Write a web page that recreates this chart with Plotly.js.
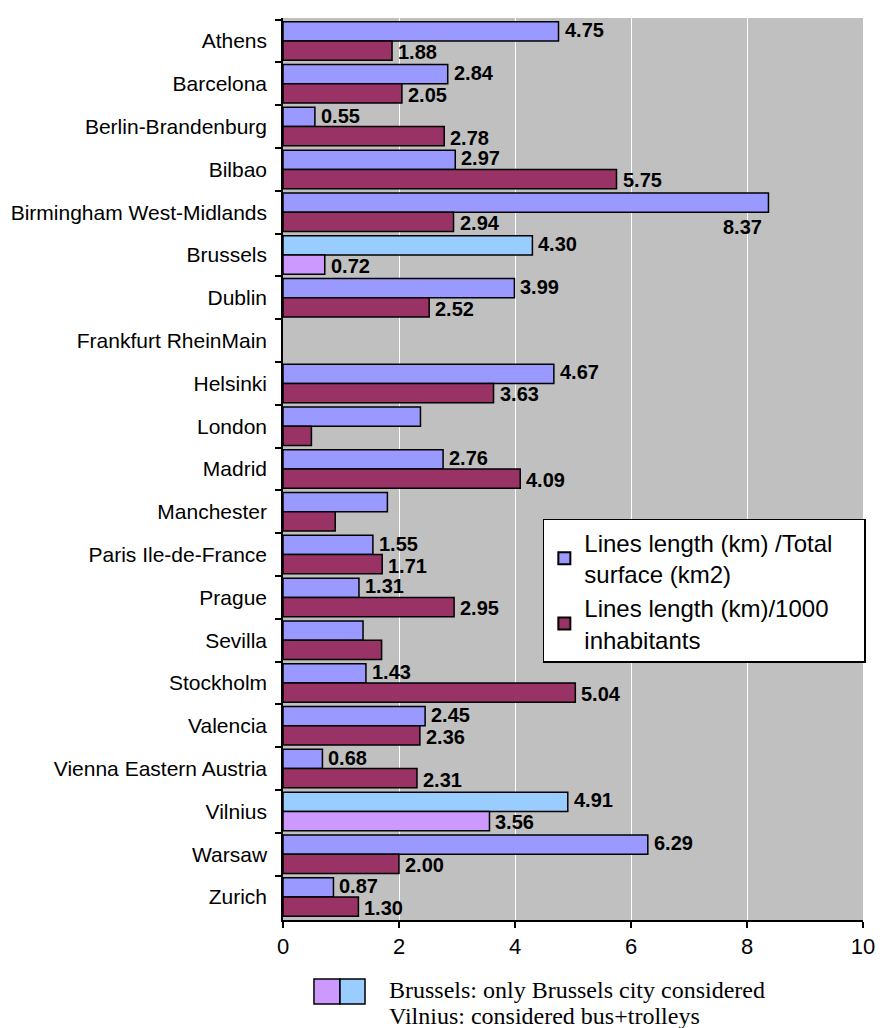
<!DOCTYPE html>
<html>
<head>
<meta charset="utf-8">
<script src="https://cdn.plot.ly/plotly-3.0.1.min.js"></script>
<style>
  body { margin: 0; background: #fff; }
  #chart { width: 882px; height: 1028px; }
</style>
</head>
<body>
<div id="chart"></div>
<script>
const cities = [
  'Athens', 'Barcelona', 'Berlin-Brandenburg', 'Bilbao', 'Birmingham West-Midlands',
  'Brussels', 'Dublin', 'Frankfurt RheinMain', 'Helsinki', 'London', 'Madrid',
  'Manchester', 'Paris Ile-de-France', 'Prague', 'Sevilla', 'Stockholm', 'Valencia',
  'Vienna Eastern Austria', 'Vilnius', 'Warsaw', 'Zurich'
];

// lines length (km) / total surface (km2)
const perSurface = [4.75, 2.84, 0.55, 2.97, 8.37, 4.30, 3.99, null, 4.67, 2.37, 2.76,
  1.80, 1.55, 1.31, 1.38, 1.43, 2.45, 0.68, 4.91, 6.29, 0.87];

// lines length (km) / 1000 inhabitants
const perInhabitants = [1.88, 2.05, 2.78, 5.75, 2.94, 0.72, 2.52, null, 3.63, 0.49, 4.09,
  0.90, 1.71, 2.95, 1.70, 5.04, 2.36, 2.31, 3.56, 2.00, 1.30];

// cities whose bar has no value label
const unlabelled = ['London', 'Manchester', 'Sevilla'];
// cities measured differently (see note under the chart)
const special = ['Brussels', 'Vilnius'];

// trailing nbsp just widens the legend box a little
const seriesNames = [
  'Lines length (km) /Total\u00a0\u00a0\u00a0\u00a0<br>surface (km2)',
  'Lines length (km)/1000<br>inhabitants'
];
const noteLines = [
  'Brussels: only Brussels city considered',
  'Vilnius: considered bus+trolleys'
];

const BLUE = '#9999FF', MAROON = '#993366', LIGHTBLUE = '#99CCFF', LILAC = '#CC99FF';
const SANS = 'Liberation Sans, Arial, sans-serif';

const blueColors = cities.map(c => special.includes(c) ? LIGHTBLUE : BLUE);
const redColors = cities.map(c => special.includes(c) ? LILAC : MAROON);

const traces = [
  {
    type: 'bar', orientation: 'h', name: seriesNames[0],
    y: cities, x: perSurface,
    marker: {color: blueColors, line: {color: '#000', width: 1.5}},
    hoverinfo: 'x+y'
  },
  {
    type: 'bar', orientation: 'h', name: seriesNames[1],
    y: cities, x: perInhabitants,
    marker: {color: redColors, line: {color: '#000', width: 1.5}},
    hoverinfo: 'x+y'
  }
];

// value labels
const annotations = [];
const up = 11, down = 11;
cities.forEach((c, i) => {
  if (unlabelled.includes(c)) return;
  const a = perSurface[i], b = perInhabitants[i];
  const font = {family: SANS, size: 20, color: '#000', weight: 'bold'};
  if (a !== null) {
    // the longest bar gets its label underneath, like the original
    const overflow = a > 8;
    annotations.push({
      x: a, y: c, xref: 'x', yref: 'y', text: a.toFixed(2), showarrow: false,
      xanchor: overflow ? 'right' : 'left', xshift: overflow ? -5 : 5,
      yshift: overflow ? -15 : up, font, borderpad: 0
    });
  }
  if (b !== null) {
    annotations.push({
      x: b, y: c, xref: 'x', yref: 'y', text: b.toFixed(2), showarrow: false,
      xanchor: 'left', xshift: 5, yshift: -down, font, borderpad: 0
    });
  }
});

// note under the chart
const serif = {family: 'Liberation Serif, Times New Roman, serif', size: 24, color: '#000'};
annotations.push(
  {x: 0.179, y: -0.0776, xref: 'paper', yref: 'paper', text: noteLines[0], showarrow: false,
   xanchor: 'left', yanchor: 'middle', font: serif},
  {x: 0.179, y: -0.1064, xref: 'paper', yref: 'paper', text: noteLines[1], showarrow: false,
   xanchor: 'left', yanchor: 'middle', font: serif}
);

const shapes = [
  {type: 'rect', xref: 'paper', yref: 'paper', x0: 0.0534, x1: 0.0983, y0: -0.0654, y1: -0.0931,
   fillcolor: LILAC, line: {color: '#000', width: 1.5}},
  {type: 'rect', xref: 'paper', yref: 'paper', x0: 0.0983, x1: 0.1414, y0: -0.0654, y1: -0.0931,
   fillcolor: LIGHTBLUE, line: {color: '#000', width: 1.5}}
];

const layout = {
  width: 882, height: 1028,
  margin: {l: 283, r: 19, t: 18, b: 108, pad: 0},
  paper_bgcolor: '#fff',
  plot_bgcolor: '#C0C0C0',
  barmode: 'group',
  bargap: 0.1,
  bargroupgap: 0,
  font: {family: SANS, color: '#000'},
  xaxis: {
    range: [0, 10], dtick: 2, tick0: 0,
    showgrid: true, gridcolor: '#fff', gridwidth: 1,
    zeroline: false,
    showline: true, linecolor: '#000', linewidth: 1.5,
    ticks: 'outside', ticklen: 6, tickcolor: '#000', tickwidth: 1.5,
    tickfont: {size: 22, family: SANS}
  },
  yaxis: {
    type: 'category', autorange: 'reversed',
    showgrid: false, zeroline: false,
    showline: true, linecolor: '#000', linewidth: 1.5,
    ticks: 'outside', tickson: 'boundaries', ticklen: 6, tickcolor: '#000', tickwidth: 1.5,
    ticklabelstandoff: 10,
    tickfont: {size: 21, family: SANS}
  },
  legend: {
    x: 0.448, y: 0.4446, xanchor: 'left', yanchor: 'top',
    bgcolor: '#fff', bordercolor: '#000', borderwidth: 1.5,
    font: {size: 24, family: SANS},
    traceorder: 'normal',
    itemsizing: 'constant'
  },
  showlegend: true,
  annotations,
  shapes
};

Plotly.newPlot('chart', traces, layout, {displayModeBar: false});
</script>
</body>
</html>
